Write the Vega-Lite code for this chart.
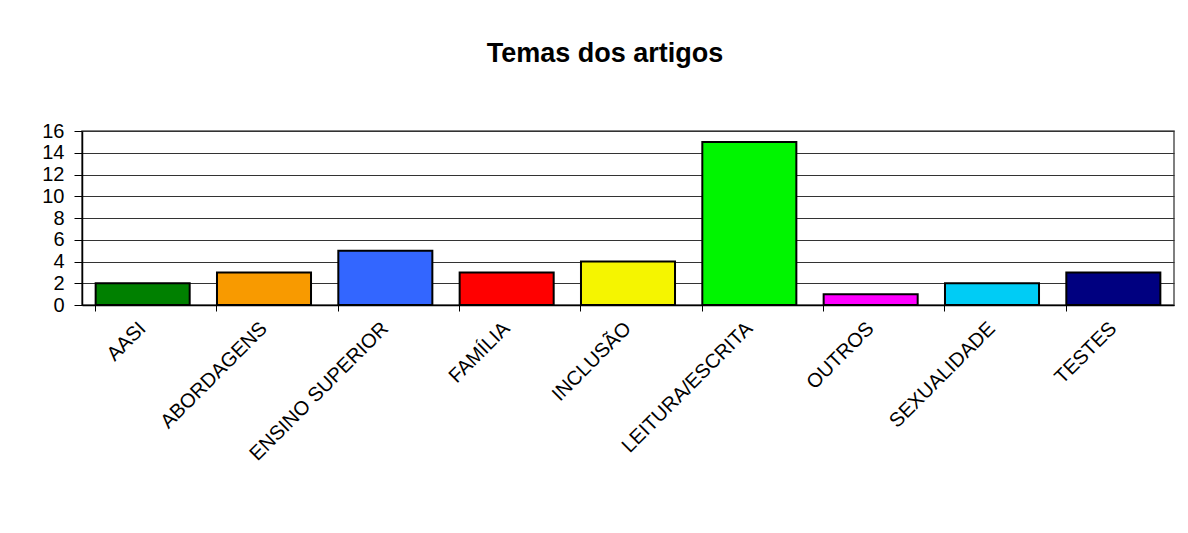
{
  "$schema": "https://vega.github.io/schema/vega-lite/v6.json",
  "autosize": "none",
  "width": 1092,
  "height": 174,
  "padding": {"left": 82, "top": 131, "right": 14, "bottom": 228},
  "background": "white",
  "title": {
    "text": "Temas dos artigos",
    "font": "Liberation Sans",
    "fontSize": 27,
    "fontWeight": "bold",
    "color": "black",
    "anchor": "middle",
    "dx": -23,
    "offset": 53
  },
  "data": {
    "values": [
      {"tema": "AASI", "n": 2},
      {"tema": "ABORDAGENS", "n": 3},
      {"tema": "ENSINO SUPERIOR", "n": 5},
      {"tema": "FAMÍLIA", "n": 3},
      {"tema": "INCLUSÃO", "n": 4},
      {"tema": "LEITURA/ESCRITA", "n": 15},
      {"tema": "OUTROS", "n": 1},
      {"tema": "SEXUALIDADE", "n": 2},
      {"tema": "TESTES", "n": 3}
    ]
  },
  "mark": {"type": "bar", "stroke": "black", "strokeWidth": 2},
  "encoding": {
    "x": {
      "field": "tema",
      "type": "nominal",
      "sort": null,
      "scale": {"paddingInner": 0.225, "paddingOuter": 0.1125},
      "axis": {
        "title": null,
        "labelAngle": -45,
        "labelAlign": "right",
        "labelBaseline": "middle",
        "labelFont": "Liberation Sans",
        "labelFontSize": 20,
        "labelColor": "black",
        "labelPadding": 14,
        "labelLimit": 0,
        "bandPosition": 0,
        "tickColor": "black",
        "tickSize": 6,
        "domainColor": "black",
        "domainWidth": 1.5,
        "grid": false
      }
    },
    "y": {
      "field": "n",
      "type": "quantitative",
      "scale": {"domain": [0, 16], "nice": false},
      "axis": {
        "title": null,
        "values": [0, 2, 4, 6, 8, 10, 12, 14, 16],
        "labelFont": "Liberation Sans",
        "labelFontSize": 20,
        "labelColor": "black",
        "labelPadding": 10,
        "tickColor": "black",
        "tickSize": 8,
        "domainColor": "black",
        "domainWidth": 1.5,
        "grid": true,
        "gridColor": "#333333",
        "gridWidth": 1.2
      }
    },
    "color": {
      "field": "tema",
      "type": "nominal",
      "sort": null,
      "legend": null,
      "scale": {
        "domain": ["AASI", "ABORDAGENS", "ENSINO SUPERIOR", "FAMÍLIA", "INCLUSÃO", "LEITURA/ESCRITA", "OUTROS", "SEXUALIDADE", "TESTES"],
        "range": ["#008000", "#F89A00", "#3366FF", "#FF0000", "#F5F500", "#00F500", "#FF00FF", "#00CCF5", "#000080"]
      }
    }
  },
  "config": {
    "view": {"stroke": "#555555", "strokeWidth": 1.5}
  }
}
